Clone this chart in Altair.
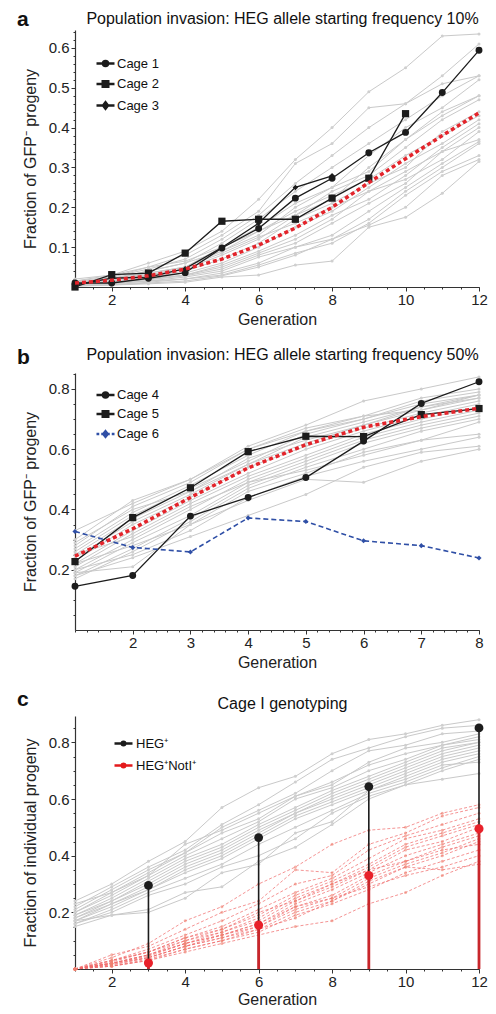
import altair as alt
import pandas as pd

FONT = "Liberation Sans"
GRAY = "#c9c9c9"
BLACK = "#1c1c1c"
RED = "#e3242b"
BLUE = "#2f4fa6"
W = 404

# ---------------- Panel a data ----------------
gens_a = list(range(1, 13))
sims_a = [
    [0.020, 0.030, 0.060, 0.090, 0.140, 0.220, 0.320, 0.400, 0.490, 0.550, 0.630, 0.635],
    [0.015, 0.030, 0.050, 0.080, 0.130, 0.190, 0.310, 0.360, 0.450, 0.460, 0.530, 0.610],
    [0.010, 0.025, 0.045, 0.070, 0.120, 0.180, 0.260, 0.330, 0.400, 0.460, 0.510, 0.530],
    [0.010, 0.020, 0.040, 0.060, 0.110, 0.170, 0.240, 0.300, 0.360, 0.420, 0.480, 0.530],
    [0.010, 0.020, 0.035, 0.050, 0.100, 0.150, 0.210, 0.250, 0.330, 0.400, 0.450, 0.520],
    [0.012, 0.020, 0.030, 0.050, 0.090, 0.130, 0.200, 0.250, 0.290, 0.370, 0.430, 0.480],
    [0.008, 0.018, 0.030, 0.045, 0.080, 0.120, 0.180, 0.240, 0.280, 0.350, 0.420, 0.470],
    [0.010, 0.015, 0.025, 0.040, 0.070, 0.110, 0.170, 0.210, 0.260, 0.300, 0.390, 0.440],
    [0.005, 0.015, 0.025, 0.035, 0.060, 0.100, 0.150, 0.190, 0.250, 0.310, 0.360, 0.420],
    [0.010, 0.012, 0.020, 0.030, 0.055, 0.090, 0.130, 0.180, 0.220, 0.280, 0.350, 0.410],
    [0.008, 0.010, 0.020, 0.030, 0.050, 0.085, 0.120, 0.170, 0.240, 0.270, 0.320, 0.390],
    [0.006, 0.012, 0.018, 0.028, 0.045, 0.080, 0.110, 0.160, 0.210, 0.260, 0.340, 0.370],
    [0.005, 0.010, 0.015, 0.025, 0.040, 0.075, 0.100, 0.130, 0.190, 0.250, 0.310, 0.365],
    [0.004, 0.008, 0.015, 0.020, 0.035, 0.060, 0.100, 0.120, 0.170, 0.240, 0.300, 0.360],
    [0.003, 0.006, 0.012, 0.020, 0.030, 0.055, 0.085, 0.110, 0.160, 0.230, 0.290, 0.330],
    [0.002, 0.005, 0.010, 0.015, 0.028, 0.050, 0.080, 0.120, 0.155, 0.200, 0.280, 0.320],
    [0.003, 0.005, 0.008, 0.012, 0.025, 0.030, 0.055, 0.065, 0.150, 0.175, 0.235, 0.315],
    [0.015, 0.025, 0.050, 0.065, 0.100, 0.140, 0.190, 0.230, 0.270, 0.330, 0.380, 0.430],
    [0.012, 0.022, 0.040, 0.060, 0.090, 0.140, 0.180, 0.220, 0.300, 0.370, 0.440, 0.480],
    [0.009, 0.018, 0.035, 0.050, 0.085, 0.125, 0.160, 0.200, 0.240, 0.290, 0.340, 0.400],
]
cage1 = [0.010, 0.010, 0.022, 0.036, 0.098, 0.147, 0.223, 0.273, 0.337, 0.388, 0.488, 0.594]
cage2 = [0.000, 0.031, 0.035, 0.085, 0.165, 0.170, 0.170, 0.223, 0.273, 0.435]
cage3 = [0.005, 0.022, 0.025, 0.046, 0.099, 0.160, 0.250, 0.279]
mean_a = [0.010, 0.017, 0.028, 0.045, 0.070, 0.105, 0.148, 0.200, 0.262, 0.322, 0.380, 0.437]
legend_a = ["Cage 1", "Cage 2", "Cage 3"]

# ---------------- Panel b data ----------------
gens_b = list(range(1, 9))
sims_b = [
    [0.30, 0.43, 0.50, 0.61, 0.68, 0.76, 0.80, 0.84],
    [0.28, 0.41, 0.49, 0.60, 0.67, 0.71, 0.77, 0.80],
    [0.27, 0.39, 0.48, 0.58, 0.66, 0.70, 0.76, 0.79],
    [0.26, 0.38, 0.47, 0.56, 0.65, 0.70, 0.75, 0.78],
    [0.25, 0.37, 0.46, 0.55, 0.64, 0.69, 0.74, 0.78],
    [0.24, 0.36, 0.45, 0.55, 0.62, 0.68, 0.73, 0.77],
    [0.23, 0.35, 0.44, 0.54, 0.61, 0.67, 0.72, 0.76],
    [0.22, 0.33, 0.43, 0.52, 0.60, 0.66, 0.71, 0.75],
    [0.21, 0.32, 0.42, 0.51, 0.58, 0.65, 0.70, 0.74],
    [0.20, 0.30, 0.40, 0.50, 0.57, 0.64, 0.69, 0.73],
    [0.19, 0.29, 0.38, 0.49, 0.56, 0.63, 0.68, 0.72],
    [0.18, 0.27, 0.37, 0.48, 0.55, 0.62, 0.67, 0.71],
    [0.17, 0.26, 0.36, 0.47, 0.54, 0.60, 0.66, 0.70],
    [0.22, 0.28, 0.35, 0.46, 0.52, 0.59, 0.63, 0.65],
    [0.20, 0.25, 0.33, 0.44, 0.51, 0.56, 0.60, 0.64],
    [0.18, 0.24, 0.31, 0.38, 0.45, 0.54, 0.59, 0.61],
    [0.19, 0.21, 0.35, 0.43, 0.50, 0.49, 0.56, 0.60],
    [0.25, 0.31, 0.41, 0.49, 0.53, 0.58, 0.63, 0.69],
    [0.29, 0.40, 0.46, 0.57, 0.63, 0.68, 0.74, 0.77],
    [0.33, 0.42, 0.50, 0.60, 0.66, 0.71, 0.73, 0.78],
]
cage4 = [0.145, 0.181, 0.378, 0.440, 0.506, 0.627, 0.752, 0.824]
cage5 = [0.227, 0.373, 0.472, 0.592, 0.643, 0.642, 0.715, 0.735]
cage6 = [0.327, 0.274, 0.259, 0.372, 0.360, 0.296, 0.280, 0.239]
mean_b = [0.245, 0.336, 0.440, 0.538, 0.615, 0.673, 0.708, 0.736]
legend_b = ["Cage 4", "Cage 5", "Cage 6"]

# ---------------- Panel c data ----------------
gens_c = list(range(1, 13))
sims_c_heg = [
    [0.24, 0.30, 0.38, 0.45, 0.57, 0.64, 0.68, 0.76, 0.81, 0.83, 0.86, 0.88],
    [0.22, 0.29, 0.36, 0.42, 0.51, 0.58, 0.66, 0.74, 0.78, 0.82, 0.85, 0.86],
    [0.21, 0.28, 0.35, 0.41, 0.50, 0.56, 0.62, 0.70, 0.77, 0.79, 0.83, 0.84],
    [0.20, 0.27, 0.34, 0.41, 0.48, 0.53, 0.61, 0.65, 0.73, 0.78, 0.80, 0.83],
    [0.20, 0.26, 0.33, 0.40, 0.46, 0.52, 0.60, 0.64, 0.70, 0.74, 0.79, 0.82],
    [0.19, 0.25, 0.32, 0.39, 0.44, 0.51, 0.57, 0.63, 0.68, 0.73, 0.78, 0.80],
    [0.19, 0.24, 0.31, 0.38, 0.43, 0.50, 0.56, 0.62, 0.67, 0.72, 0.77, 0.80],
    [0.18, 0.24, 0.30, 0.37, 0.42, 0.49, 0.55, 0.61, 0.66, 0.71, 0.76, 0.79],
    [0.18, 0.23, 0.29, 0.36, 0.41, 0.48, 0.55, 0.60, 0.65, 0.70, 0.75, 0.78],
    [0.17, 0.23, 0.28, 0.35, 0.40, 0.47, 0.54, 0.59, 0.64, 0.69, 0.74, 0.77],
    [0.17, 0.22, 0.28, 0.34, 0.39, 0.46, 0.53, 0.58, 0.63, 0.68, 0.73, 0.76],
    [0.16, 0.21, 0.27, 0.32, 0.37, 0.44, 0.50, 0.56, 0.62, 0.66, 0.71, 0.75],
    [0.16, 0.20, 0.26, 0.30, 0.36, 0.40, 0.46, 0.55, 0.61, 0.65, 0.70, 0.74],
    [0.15, 0.19, 0.21, 0.27, 0.29, 0.38, 0.43, 0.51, 0.60, 0.65, 0.67, 0.69],
    [0.17, 0.19, 0.20, 0.25, 0.34, 0.37, 0.48, 0.52, 0.63, 0.67, 0.72, 0.73],
    [0.23, 0.27, 0.33, 0.44, 0.49, 0.55, 0.61, 0.66, 0.72, 0.76, 0.79, 0.81],
]
sims_c_noti = [
    [0.0, 0.040, 0.090, 0.170, 0.220, 0.300, 0.360, 0.440, 0.490, 0.500, 0.550, 0.580],
    [0.0, 0.050, 0.080, 0.140, 0.200, 0.240, 0.350, 0.340, 0.440, 0.480, 0.540, 0.570],
    [0.0, 0.030, 0.070, 0.120, 0.170, 0.230, 0.300, 0.330, 0.420, 0.470, 0.510, 0.550],
    [0.0, 0.030, 0.060, 0.110, 0.150, 0.210, 0.270, 0.320, 0.390, 0.460, 0.490, 0.530],
    [0.0, 0.025, 0.060, 0.100, 0.140, 0.190, 0.260, 0.310, 0.370, 0.440, 0.480, 0.520],
    [0.0, 0.020, 0.050, 0.100, 0.130, 0.180, 0.250, 0.300, 0.360, 0.430, 0.470, 0.510],
    [0.0, 0.020, 0.050, 0.090, 0.130, 0.170, 0.240, 0.290, 0.350, 0.420, 0.450, 0.500],
    [0.0, 0.020, 0.045, 0.090, 0.120, 0.160, 0.230, 0.280, 0.340, 0.400, 0.440, 0.480],
    [0.0, 0.015, 0.040, 0.080, 0.120, 0.150, 0.220, 0.260, 0.330, 0.380, 0.430, 0.470],
    [0.0, 0.015, 0.040, 0.080, 0.110, 0.150, 0.210, 0.250, 0.320, 0.370, 0.410, 0.460],
    [0.0, 0.010, 0.035, 0.070, 0.100, 0.140, 0.200, 0.240, 0.300, 0.360, 0.400, 0.450],
    [0.0, 0.010, 0.030, 0.070, 0.100, 0.130, 0.190, 0.230, 0.280, 0.340, 0.380, 0.420],
    [0.0, 0.010, 0.030, 0.060, 0.090, 0.120, 0.150, 0.170, 0.230, 0.270, 0.330, 0.380],
    [0.0, 0.020, 0.050, 0.090, 0.120, 0.160, 0.220, 0.250, 0.290, 0.330, 0.360, 0.400],
    [0.0, 0.030, 0.060, 0.110, 0.140, 0.200, 0.240, 0.300, 0.350, 0.380, 0.420, 0.440],
    [0.0, 0.020, 0.040, 0.080, 0.110, 0.140, 0.180, 0.240, 0.310, 0.360, 0.350, 0.370],
]
geno_gens = [3, 6, 9, 12]
heg_plus = [0.295, 0.464, 0.644, 0.851]
heg_noti = [0.021, 0.155, 0.330, 0.495]
legend_c = ["HEG\u207a", "HEG\u207aNotI\u207a"]

# tick values
xa_major = [2, 4, 6, 8, 10, 12]
xa_minor = [1 + 0.5 * k for k in range(23)]
ya_major = [0.1, 0.2, 0.3, 0.4, 0.5, 0.6]
ya_minor = [0.02 * k for k in range(1, 33)]
xb_major = [2, 3, 4, 5, 6, 7, 8]
xb_minor = [1 + 0.2 * k for k in range(36)]
yb_major = [0.2, 0.4, 0.6, 0.8]
yb_minor = [0.05 * k for k in range(1, 18)]


# ---------------- helpers ----------------
def long_df(series_list, gens, prefix):
    rows = []
    for i, vals in enumerate(series_list):
        for g, v in zip(gens, vals):
            rows.append({"gen": g, "val": v, "sid": f"{prefix}{i}"})
    return pd.DataFrame(rows)


def one_df(vals, gens, name):
    return pd.DataFrame({"gen": gens[: len(vals)], "val": vals, "sid": name})


def x_main(vals, tpad=4):
    return alt.Axis(orient="bottom", values=vals, format="d", title="Generation",
                    tickSize=4, labelOverlap=False, labelFlush=False, labelPadding=1,
                    labelFontSize=15, titleFontSize=16, titlePadding=tpad)


def x_minor(vals):
    return alt.Axis(orient="bottom", values=vals, tickSize=2, labels=False,
                    domain=False, title=None)


def y_main(vals, title):
    return alt.Axis(orient="left", values=vals, format=".1f", title=title,
                    tickSize=4, labelOverlap=False, labelFlush=False, labelPadding=2,
                    labelFontSize=15, titleFontSize=16, titlePadding=10)


def y_minor(vals):
    return alt.Axis(orient="left", values=vals, tickSize=2, labels=False,
                    domain=False, title=None)


def top_title_axis(text, tx, ty, size, weight, align):
    return alt.Axis(orient="top", domain=False, ticks=False, labels=False, title=text,
                    titleFontSize=size, titleFontWeight=weight, titleBaseline="alphabetic",
                    titleX=tx, titleY=ty, titleAlign=align, titleAngle=0, titleColor="#111",
                    minExtent=0, maxExtent=0)


def xe(xmax, axis=None):
    return alt.X("gen:Q", scale=alt.Scale(domain=[1, xmax], nice=False, zero=False), axis=axis)


def ye(ymax, axis=None):
    return alt.Y("val:Q", scale=alt.Scale(domain=[0, ymax], nice=False), axis=axis)


def legend_layer(names, paths, colors, lx, ly, row_pad, label_off, xmax, ymax, letter, lty):
    lg = alt.Legend(
        orient="none", legendX=lx, legendY=ly, title=None, padding=0,
        labelFontSize=13, labelFont=FONT, labelColor="#111", labelOffset=label_off,
        symbolSize=100, symbolStrokeWidth=2.5, rowPadding=row_pad,
    )
    df = pd.DataFrame({"sid": names, "gen": 1, "val": 0.0})
    return (
        alt.Chart(df)
        .transform_filter("false")
        .mark_point(filled=True, size=100, strokeWidth=2.5, opacity=1)
        .encode(
            x=xe(xmax, top_title_axis(letter, -58.5, lty, 21, "bold", "left")),
            y=ye(ymax),
            shape=alt.Shape("sid:N", scale=alt.Scale(domain=names, range=paths), legend=lg),
            fill=alt.Fill("sid:N", scale=alt.Scale(domain=names, range=colors), legend=lg),
            stroke=alt.Stroke("sid:N", scale=alt.Scale(domain=names, range=colors), legend=lg),
        )
    )


P_CIRC = "M-1.8,0L1.8,0M0.5,0A0.5,0.5,0,1,1,-0.5,0A0.5,0.5,0,1,1,0.5,0Z"
P_SQ = "M-1.8,0L1.8,0M-0.55,-0.55L0.55,-0.55L0.55,0.55L-0.55,0.55Z"
P_DIA = "M-1.8,0L1.8,0M0,-0.65L0.5,0L0,0.65L-0.5,0Z"
P_DIA_DASH = "M-1.8,0L-1.25,0M-0.85,0L-0.35,0M0.35,0L0.85,0M1.25,0L1.8,0M0,-0.55L0.45,0L0,0.55L-0.45,0Z"
P_THICK = "M-1.8,0L1.8,0M0.35,0A0.35,0.35,0,1,1,-0.35,0A0.35,0.35,0,1,1,0.35,0Z"


def pts(df, xmax, ymax, shape, size, color, opacity=1.0):
    return alt.Chart(df).mark_point(shape=shape, filled=True, size=size, color=color,
                                    opacity=opacity).encode(x=xe(xmax), y=ye(ymax))


TX = W / 2 + 5

# ---------------- Panel a ----------------
XA_MAX, YA_MAX = 12, 0.645
ga = long_df(sims_a, gens_a, "s")
gray_a = alt.Chart(ga).mark_line(color=GRAY, strokeWidth=1).encode(
    x=xe(XA_MAX, x_main(xa_major)),
    y=ye(YA_MAX, y_main(ya_major, "Fraction of GFP\u207b progeny")),
    detail="sid:N")
gray_pa = alt.Chart(ga).mark_point(filled=True, size=9, color="#cfcfcf", opacity=1).encode(
    x=xe(XA_MAX, x_minor(xa_minor)), y=ye(YA_MAX, y_minor(ya_minor)))
ca = pd.concat([one_df(cage1, gens_a, "Cage 1"), one_df(cage2, gens_a, "Cage 2"),
                one_df(cage3, gens_a, "Cage 3")])
cage_lines_a = alt.Chart(ca).mark_line(color=BLACK, strokeWidth=1.3).encode(
    x=xe(XA_MAX), y=ye(YA_MAX), detail="sid:N")
c1p = pts(one_df(cage1, gens_a, "Cage 1"), XA_MAX, YA_MAX, "circle", 48, BLACK)
c2p = pts(one_df(cage2, gens_a, "Cage 2"), XA_MAX, YA_MAX, "square", 52, BLACK)
c3p = pts(one_df(cage3, gens_a, "Cage 3"), XA_MAX, YA_MAX, "diamond", 30, BLACK)
mean_la = alt.Chart(one_df(mean_a, gens_a, "mean")).mark_line(
    color=RED, strokeWidth=3.5, strokeDash=[4, 3]).encode(
    x=xe(XA_MAX, top_title_axis("Population invasion: HEG allele starting frequency 10%",
                                TX, -6.3, 16, "normal", "center")),
    y=ye(YA_MAX))
leg_a = legend_layer(legend_a, [P_CIRC, P_SQ, P_DIA], [BLACK] * 3, 24, 27, 4.5, 5,
                     XA_MAX, YA_MAX, "a", -4.6)
pa = alt.layer(gray_a, gray_pa, cage_lines_a, c1p, c2p, c3p, mean_la, leg_a).resolve_axis(
    x="independent", y="independent").properties(width=W, height=257)

# ---------------- Panel b ----------------
XB_MAX, YB_MAX = 8, 0.853
gb = long_df(sims_b, gens_b, "s")
gray_b = alt.Chart(gb).mark_line(color=GRAY, strokeWidth=1).encode(
    x=xe(XB_MAX, x_main(xb_major)),
    y=ye(YB_MAX, y_main(yb_major, "Fraction of GFP\u207b progeny")),
    detail="sid:N")
gray_pb = alt.Chart(gb).mark_point(filled=True, size=9, color="#cfcfcf", opacity=1).encode(
    x=xe(XB_MAX, x_minor(xb_minor)), y=ye(YB_MAX, y_minor(yb_minor)))
cb = pd.concat([one_df(cage4, gens_b, "Cage 4"), one_df(cage5, gens_b, "Cage 5")])
cage_lines_b = alt.Chart(cb).mark_line(color=BLACK, strokeWidth=1.3).encode(
    x=xe(XB_MAX), y=ye(YB_MAX), detail="sid:N")
c4p = pts(one_df(cage4, gens_b, "Cage 4"), XB_MAX, YB_MAX, "circle", 48, BLACK)
c5p = pts(one_df(cage5, gens_b, "Cage 5"), XB_MAX, YB_MAX, "square", 52, BLACK)
c6l = alt.Chart(one_df(cage6, gens_b, "Cage 6")).mark_line(
    color=BLUE, strokeWidth=1.6, strokeDash=[5, 3]).encode(x=xe(XB_MAX), y=ye(YB_MAX))
c6p = pts(one_df(cage6, gens_b, "Cage 6"), XB_MAX, YB_MAX, "diamond", 26, BLUE)
mean_lb = alt.Chart(one_df(mean_b, gens_b, "mean")).mark_line(
    color=RED, strokeWidth=3.5, strokeDash=[4, 3]).encode(
    x=xe(XB_MAX, top_title_axis("Population invasion: HEG allele starting frequency 50%",
                                TX, -13.4, 16, "normal", "center")),
    y=ye(YB_MAX))
leg_b = legend_layer(legend_b, [P_CIRC, P_SQ, P_DIA_DASH], [BLACK, BLACK, BLUE], 24, 15.5,
                     3, 5, XB_MAX, YB_MAX, "b", -9.7)
pb = alt.layer(gray_b, gray_pb, cage_lines_b, c4p, c5p, c6l, c6p, mean_lb, leg_b).resolve_axis(
    x="independent", y="independent").properties(width=W, height=257)

# ---------------- Panel c ----------------
XC_MAX, YC_MAX = 12, 0.893
gc = long_df(sims_c_heg, gens_c, "h")
rc = long_df(sims_c_noti, gens_c, "n")
gray_c = alt.Chart(gc).mark_line(color=GRAY, strokeWidth=1).encode(
    x=xe(XC_MAX, x_main(xa_major, 2)),
    y=ye(YC_MAX, y_main(yb_major, "Fraction of individual progeny")),
    detail="sid:N")
gray_pc = alt.Chart(gc).mark_point(filled=True, size=9, color="#cfcfcf", opacity=1).encode(
    x=xe(XC_MAX, x_minor(xa_minor)), y=ye(YC_MAX, y_minor(yb_minor)))
red_c = alt.Chart(rc).mark_line(color="#ef6a6a", strokeWidth=0.9, strokeDash=[3, 2],
                                opacity=0.8).encode(
    x=xe(XC_MAX, top_title_axis("Cage I genotyping", TX, -7.7, 16, "normal", "center")),
    y=ye(YC_MAX), detail="sid:N")
red_pc = pts(rc, XC_MAX, YC_MAX, "circle", 9, "#ee8070", 0.6)
hp = pd.DataFrame({"gen": geno_gens, "val": heg_plus})
hn = pd.DataFrame({"gen": geno_gens, "val": heg_noti})
stem_b = alt.Chart(hp).mark_rule(color=BLACK, strokeWidth=1.6).encode(
    x=xe(XC_MAX), y=ye(YC_MAX), y2=alt.datum(0))
stem_r = alt.Chart(hn).mark_rule(color="#c8262b", strokeWidth=2.8).encode(
    x=xe(XC_MAX), y=ye(YC_MAX), y2=alt.datum(0))
dot_b = pts(hp, XC_MAX, YC_MAX, "circle", 78, BLACK)
dot_r = pts(hn, XC_MAX, YC_MAX, "circle", 82, "#e8212a")
leg_c = legend_layer(legend_c, [P_THICK, P_THICK], [BLACK, "#e41a1c"], 42, 21, 7, 6,
                     XC_MAX, YC_MAX, "c", -10.7)
pc = alt.layer(gray_c, gray_pc, red_c, red_pc, stem_b, stem_r, dot_b, dot_r, leg_c).resolve_axis(
    x="independent", y="independent").properties(width=W, height=253)

chart = (
    alt.vconcat(pa, pb, pc, spacing=86, bounds="flush")
    .resolve_scale(shape="independent", fill="independent", stroke="independent")
    .resolve_legend(shape="independent", fill="independent", stroke="independent")
    .properties(padding={"left": 8, "top": 0, "right": 0, "bottom": 0})
    .configure_view(stroke=None)
    .configure_axis(
        grid=False, domainColor="#333", tickColor="#333", domainWidth=1.2,
        labelColor="#222", titleColor="#222", labelFont=FONT, titleFont=FONT,
        titleFontWeight="normal",
    )
)

chart.save("out.html", embed_options={"renderer": "svg", "actions": False})
